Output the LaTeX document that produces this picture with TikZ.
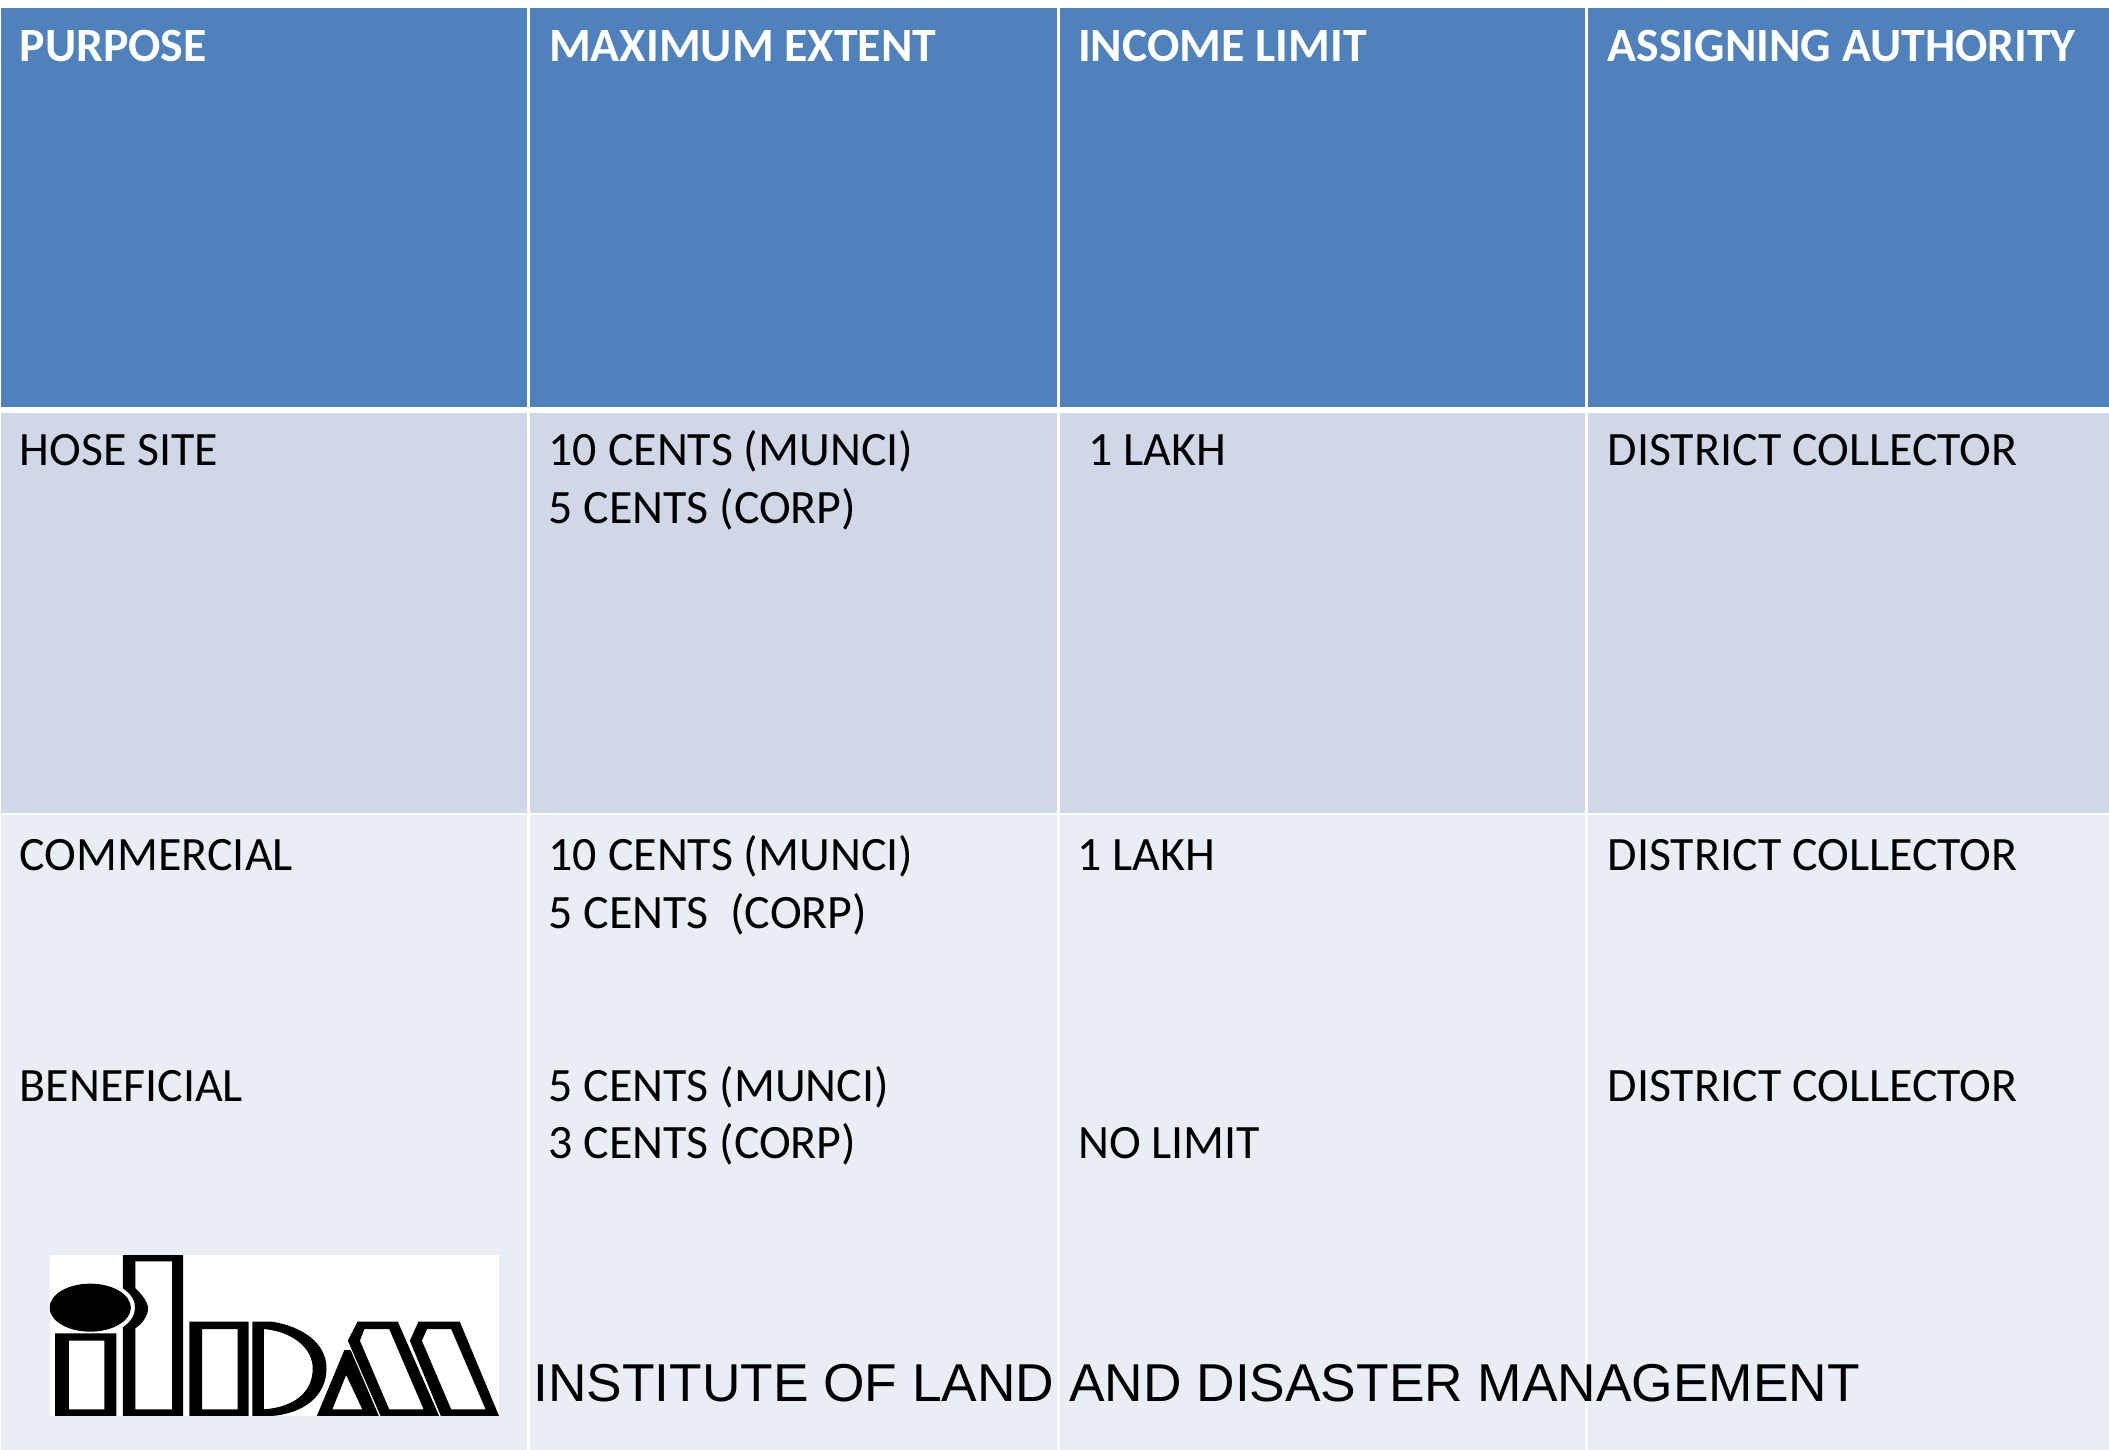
\documentclass[tikz,border=0pt]{standalone}
\usepackage{fontspec}
\setmainfont{Carlito}
\newfontfamily\footfont{Liberation Sans}
\definecolor{headblue}{HTML}{4F81BD}
\definecolor{rowone}{HTML}{D0D8E8}
\definecolor{rowtwo}{HTML}{E9EDF4}
\tikzset{
  cellbox/.style={draw=white,line width=2.7pt,inner sep=0pt},
  headtext/.style={anchor=base west,inner sep=0pt,text=white,font=\fontsize{47.8}{50}\selectfont\bfseries},
  bodytext/.style={anchor=base west,inner sep=0pt,text=black,font=\fontsize{47.9}{50}\selectfont},
  foottext/.style={anchor=base west,inner sep=0pt,text=black,font=\footfont\fontsize{53.3}{60}\selectfont},
  logoink/.style={fill=black,draw=none,even odd rule}
}
\begin{document}
\begin{tikzpicture}[x=1pt,y=-1pt]
\useasboundingbox (0,0) rectangle (2109,1450);
\fill[white] (0,0) rectangle (2109,1450);
% cells
\foreach \xa/\xb/\k in {0/528.5/a,528.5/1058.5/b,1058.5/1586.5/c,1586.5/2112/d}{
  \path[cellbox,fill=headblue] (\xa,7) rectangle (\xb,408);
  \path[cellbox,fill=rowone] (\xa,412) rectangle (\xb,814);
  \path[cellbox,fill=rowtwo] (\xa,814) rectangle (\xb,1452);
}
\draw[white,line width=5.5pt] (0,410) -- (2109,410);
% header
\node[headtext] (h1) at (19.5,62) {PURPOSE};
\node[headtext] (h2) at (549,62) {MAXIMUM EXTENT};
\node[headtext] (h3) at (1078,62) {INCOME LIMIT};
\node[headtext] (h4) at (1607.5,62) {ASSIGNING AUTHORITY};
% row 1
\node[bodytext] (r1a) at (19.5,465) {HOSE SITE};
\node[bodytext] (r1b) at (548.5,465) {10 CENTS (MUNCI)};
\node[bodytext] (r1bb) at (548.5,523) {5 CENTS (CORP)};
\node[bodytext] (r1c) at (1088.5,465) {1 LAKH};
\node[bodytext] (r1d) at (1607.5,465) {DISTRICT COLLECTOR};
% row 2
\node[bodytext] (r2a) at (19.5,870) {COMMERCIAL};
\node[bodytext] (r2b) at (548.5,870) {10 CENTS (MUNCI)};
\node[bodytext] (r2bb) at (548.5,928) {5 CENTS \ (CORP)};
\node[bodytext] (r2c) at (1077.5,870) {1 LAKH};
\node[bodytext] (r2d) at (1607.5,870) {DISTRICT COLLECTOR};
% row 3
\node[bodytext] (r3a) at (19.5,1101) {BENEFICIAL};
\node[bodytext] (r3b) at (548.5,1101) {5 CENTS (MUNCI)};
\node[bodytext] (r3bb) at (548.5,1158) {3 CENTS (CORP)};
\node[bodytext] (r3c) at (1078,1158) {NO LIMIT};
\node[bodytext] (r3d) at (1607.5,1101) {DISTRICT COLLECTOR};
% footer
\node[foottext] (foot) at (533,1401) {INSTITUTE OF LAND AND DISASTER MANAGEMENT};
% logo
\begin{scope}[shift={(0,1220)},x=0.3444pt,y=-0.3333pt]
\fill[white] (145,105) rectangle (1449,588);
\begin{scope}
\clip (145,105) rectangle (1449,588);
\fill[black] (262,263) ellipse [x radius=118,y radius=72];
\end{scope}
\fill[logoink] (160,340) rectangle (338,588) (200,362) rectangle (303,568);
\fill[logoink] (357,105) -- (357,205) .. controls (385,225) and (392,245) .. (392,263) .. controls (392,285) and (380,305) .. (357,322) -- (357,588) -- (532,588) -- (532,105) -- cycle
  (393,124) -- (393,205) .. controls (415,225) and (430,250) .. (430,265) .. controls (430,285) and (415,310) .. (393,325) -- (393,568) -- (500,568) -- (500,124) -- cycle;
\fill[logoink] (550,305) rectangle (722,588) (587,327) rectangle (690,568);
\fill[logoink] (733,305) -- (790,305) .. controls (880,320) and (948,370) .. (948,445) .. controls (948,530) and (880,580) .. (790,588) -- (733,588) -- cycle
  (766,327) -- (766,568) .. controls (850,562) and (908,520) .. (908,445) .. controls (908,385) and (850,335) .. (766,327) -- cycle;
\fill[logoink] (920,588) -- (1000,390) -- (1018,390) -- (1100,588) -- cycle (965,568) -- (1005,465) -- (1052,568) -- cycle;
\fill[logoink] (1010,362) -- (1038,305) -- (1155,305) -- (1275,588) -- (1105,588) -- cycle (1045,362) -- (1058,327) -- (1130,327) -- (1230,568) -- (1130,568) -- cycle;
\fill[logoink] (1190,362) -- (1215,305) -- (1335,305) -- (1449,588) -- (1280,588) -- cycle (1225,362) -- (1240,327) -- (1310,327) -- (1410,568) -- (1310,568) -- cycle;
\end{scope}
\end{tikzpicture}
\end{document}
